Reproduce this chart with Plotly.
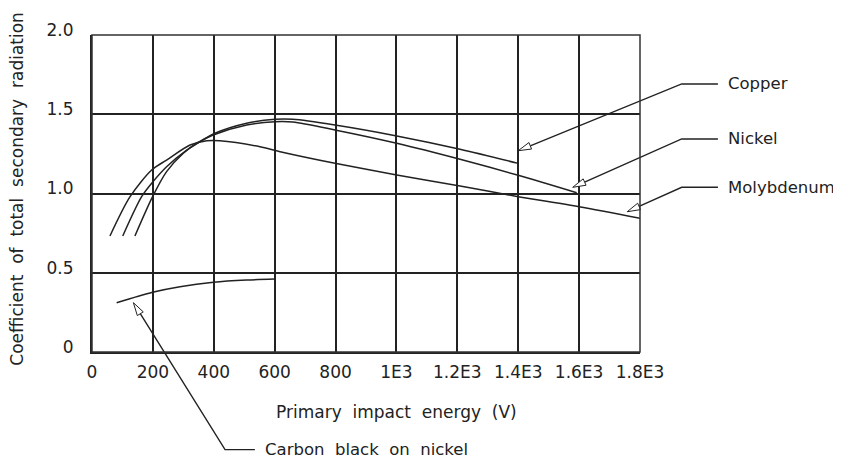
import math
import plotly.graph_objects as go

# curve data (energy in V, coefficient)
copper_x = [101, 163, 200, 245, 311, 355, 404, 508, 601, 660, 798, 1001, 1209, 1400]
copper_y = [0.732, 0.980, 1.074, 1.169, 1.274, 1.327, 1.380, 1.443, 1.468, 1.468, 1.432, 1.363, 1.279, 1.19]

nickel_x = [141, 199, 245, 300, 344, 398, 508, 601, 660, 798, 1001, 1209, 1400, 1592]
nickel_y = [0.732, 0.980, 1.138, 1.254, 1.317, 1.369, 1.432, 1.453, 1.451, 1.401, 1.317, 1.216, 1.115, 1.005]

moly_x = [59, 125, 196, 245, 322, 377, 420, 552, 618, 798, 1001, 1209, 1400, 1600, 1800]
moly_y = [0.732, 0.980, 1.148, 1.211, 1.306, 1.333, 1.333, 1.295, 1.264, 1.191, 1.117, 1.047, 0.98, 0.917, 0.844]

carbon_x = [81, 199, 289, 399, 508, 600]
carbon_y = [0.311, 0.377, 0.412, 0.440, 0.454, 0.46]

x_ticks = [0, 200, 400, 600, 800, 1000, 1200, 1400, 1600, 1800]
x_ticktext = ["0", "200", "400", "600", "800", "1E3", "1.2E3", "1.4E3", "1.6E3", "1.8E3"]
y_ticks = [0, 0.5, 1.0, 1.5, 2.0]
y_ticktext = ["0", "0.5", "1.0", "1.5", "2.0"]

# callout labels: text, arrow tip (data units), elbow and line end (data units, may lie outside plot)
labels = ["Copper", "Nickel", "Molybdenum", "Carbon black on nickel"]
tips = [(1400, 1.27), (1579, 1.039), (1758, 0.885), (136, 0.311)]
elbows = [(1937, 1.691), (1937, 1.344), (1937, 1.039), (437, -0.616)]
ends = [(2056, 1.691), (2056, 1.344), (2056, 1.039), (535, -0.616)]

# page body adds an 8px margin, so the figure is made smaller by that much
PAGE = 8
W, H = 841 - PAGE, 462 - PAGE
L, R, T, B = 92 - PAGE, 201, 35 - PAGE, 110
PW, PH = W - L - R, H - T - B
XMAX, YMAX = 1800, 2.0
INK = "#222222"
FONT = "DejaVu Sans"
SP = "\u00a0\u00a0"  # wide word gaps like the original lettering


def to_px(x, y):
    return L + x / XMAX * PW, T + PH - y / YMAX * PH


def to_paper(px, py):
    return (px - L) / PW, (T + PH - py) / PH


fig = go.Figure()
for xs, ys in [(copper_x, copper_y), (nickel_x, nickel_y), (moly_x, moly_y), (carbon_x, carbon_y)]:
    fig.add_trace(go.Scatter(x=xs, y=ys, mode="lines",
                             line=dict(color=INK, width=1.5, shape="spline", smoothing=0.8),
                             showlegend=False, hoverinfo="skip"))

# leader lines with open arrow heads
for text, tip, elb, end in zip(labels, tips, elbows, ends):
    tx, ty = to_px(*tip)
    ex, ey = to_px(*elb)
    nx, ny = to_px(*end)
    dx, dy = ex - tx, ey - ty
    d = math.hypot(dx, dy)
    ux, uy = dx / d, dy / d
    hl, hw = 13, 3.5
    bx, by = tx + ux * hl, ty + uy * hl
    p1 = to_paper(bx - uy * hw, by + ux * hw)
    p2 = to_paper(bx + uy * hw, by - ux * hw)
    pt = to_paper(tx, ty)
    pb = to_paper(bx, by)
    pe = to_paper(ex, ey)
    pn = to_paper(nx, ny)
    fig.add_shape(type="path", xref="paper", yref="paper",
                  path=f"M{pn[0]},{pn[1]} L{pe[0]},{pe[1]} L{pb[0]},{pb[1]}",
                  line=dict(color=INK, width=1.4))
    fig.add_shape(type="path", xref="paper", yref="paper",
                  path=f"M{pt[0]},{pt[1]} L{p1[0]},{p1[1]} L{p2[0]},{p2[1]} Z",
                  line=dict(color=INK, width=1), fillcolor="white")
    lx, ly = to_paper(nx + 8, ny)
    fig.add_annotation(x=lx, y=ly, xref="paper", yref="paper", text=text.replace(" ", SP),
                       showarrow=False, xanchor="left", yanchor="middle",
                       font=dict(family=FONT, size=16.5, color=INK))

# frame
fig.add_shape(type="rect", xref="paper", yref="paper", x0=0, y0=0, x1=1, y1=1,
              line=dict(color="#333333", width=1.5))

fig.add_annotation(x=(396 - 92) / PW, y=-0.19, xref="paper", yref="paper",
                   xanchor="center", yanchor="middle",
                   text="Primary impact energy (V)".replace(" ", SP), showarrow=False,
                   font=dict(family=FONT, size=17, color=INK))
fig.add_annotation(x=(17 - 92) / PW, y=0.515, xref="paper", yref="paper", textangle=-90,
                   xanchor="center", yanchor="middle",
                   text="Coefficient of total secondary radiation".replace(" ", SP), showarrow=False,
                   font=dict(family=FONT, size=17, color=INK))

fig.update_xaxes(range=[0, XMAX], tickvals=x_ticks, ticktext=x_ticktext,
                 showgrid=True, gridcolor=INK, gridwidth=2, zeroline=False,
                 showline=True, linecolor=INK, linewidth=2,
                 ticks="", ticklabelstandoff=4,
                 tickfont=dict(family=FONT, size=17, color=INK))
fig.update_yaxes(range=[0, YMAX], tickvals=y_ticks, ticktext=y_ticktext,
                 showgrid=True, gridcolor=INK, gridwidth=2, zeroline=False,
                 showline=True, linecolor=INK, linewidth=2,
                 ticks="", ticklabelstandoff=13, ticklabelshift=-5,
                 tickfont=dict(family=FONT, size=17, color=INK))

fig.update_layout(width=W, height=H, margin=dict(l=L, r=R, t=T, b=B, autoexpand=False),
                  plot_bgcolor="white", paper_bgcolor="white")

fig.write_html("out.html")
